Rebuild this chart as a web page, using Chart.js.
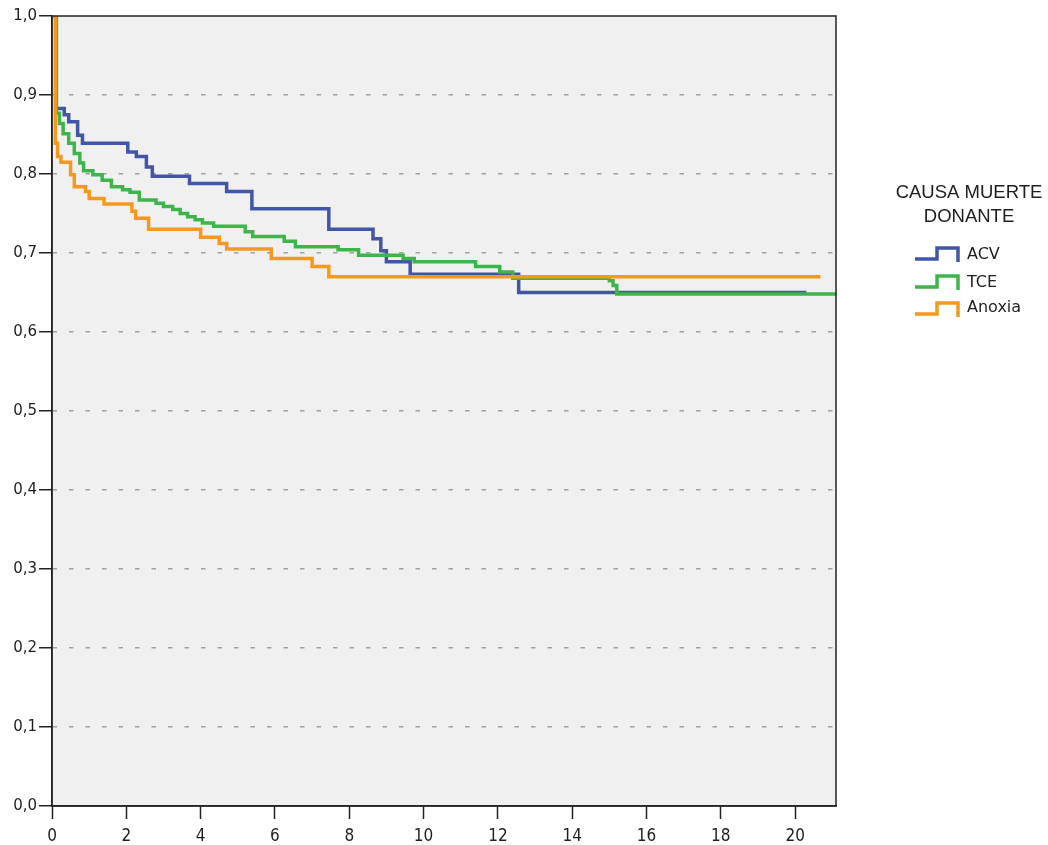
<!DOCTYPE html>
<html>
<head>
<meta charset="utf-8">
<script src="https://cdn.jsdelivr.net/npm/chart.js@4.4.0/dist/chart.umd.min.js"></script>
<style>
  html, body { margin: 0; padding: 0; background: #fff; }
  #wrap { width: 1048px; height: 845px; }
</style>
</head>
<body>
<div id="wrap"><canvas id="km" width="1048" height="845"></canvas></div>
<script>
// ── Data ──────────────────────────────────────────────────────────────────
const xTicks = [0, 2, 4, 6, 8, 10, 12, 14, 16, 18, 20];
const yTicks = [0, 0.1, 0.2, 0.3, 0.4, 0.5, 0.6, 0.7, 0.8, 0.9, 1.0];
const groups = ['ACV', 'TCE', 'Anoxia'];

const acvTime = [0, 0.1, 0.33, 0.45, 0.69, 0.82, 2.04, 2.27, 2.54, 2.7, 3.7, 4.7, 5.38, 7.45, 8.64, 8.85, 9.0, 9.64, 12.56, 20.3];
const acvSurv = [1.0, 0.883, 0.875, 0.866, 0.849, 0.839, 0.828, 0.822, 0.809, 0.797, 0.788, 0.778, 0.756, 0.730, 0.718, 0.703, 0.689, 0.673, 0.650, 0.650];

const tceTime = [0, 0.12, 0.2, 0.3, 0.45, 0.6, 0.75, 0.85, 1.1, 1.35, 1.6, 1.9, 2.1, 2.35, 2.8, 3.0, 3.25, 3.45, 3.65, 3.85, 4.05, 4.35, 5.2, 5.4, 6.25, 6.55, 7.7, 8.25, 9.45, 9.75, 11.4, 12.05, 12.4, 15.0, 15.1, 15.2, 21.1];
const tceSurv = [1.0, 0.877, 0.864, 0.851, 0.839, 0.826, 0.814, 0.804, 0.799, 0.792, 0.784, 0.780, 0.777, 0.767, 0.763, 0.759, 0.755, 0.750, 0.746, 0.742, 0.738, 0.734, 0.727, 0.721, 0.715, 0.708, 0.704, 0.697, 0.693, 0.689, 0.683, 0.676, 0.668, 0.665, 0.659, 0.648, 0.648];

const anoxTime = [0, 0.09, 0.15, 0.24, 0.5, 0.6, 0.9, 1.0, 1.4, 2.15, 2.25, 2.6, 4.0, 4.5, 4.7, 5.9, 7.0, 7.45, 20.68];
const anoxSurv = [1.0, 0.839, 0.822, 0.815, 0.799, 0.784, 0.778, 0.769, 0.762, 0.753, 0.744, 0.730, 0.720, 0.712, 0.705, 0.693, 0.683, 0.670, 0.670];

// ── Style ─────────────────────────────────────────────────────────────────
const COLORS = {
  acv: '#4156a8',
  tce: '#3db54a',
  anox: '#f7981e',
  plotBg: '#f0f0f0',
  axis: '#222222',
  grid: '#a0a0a0',
  text: '#1e1e1e',
};

const toPoints = (ts, ss) => ts.map((t, i) => ({ x: t, y: ss[i] }));
const fmtComma = (v) => v.toFixed(1).replace('.', ',');

function series(label, ts, ss, color, order) {
  return {
    label,
    data: toPoints(ts, ss),
    borderColor: color,
    borderWidth: 3.5,
    pointRadius: 0,
    stepped: 'before',
    fill: false,
    order,
  };
}

// plot background + frame + legend
const frameAndLegend = {
  id: 'frameAndLegend',
  beforeDraw(chart) {
    const { ctx, chartArea: a } = chart;
    ctx.save();
    ctx.fillStyle = COLORS.plotBg;
    ctx.fillRect(a.left, a.top, a.right - a.left, a.bottom - a.top);
    ctx.restore();
  },
  afterDraw(chart) {
    const { ctx, chartArea: a } = chart;
    ctx.save();
    ctx.strokeStyle = COLORS.axis;
    ctx.lineWidth = 1.5;
    ctx.strokeRect(a.left, a.top, a.right - a.left, a.bottom - a.top);

    // legend title
    ctx.fillStyle = COLORS.text;
    ctx.textAlign = 'center';
    ctx.textBaseline = 'middle';
    ctx.font = '18.5px "Liberation Sans", sans-serif';
    ctx.fillText('CAUSA MUERTE', 969, 193);
    ctx.fillText('DONANTE', 969, 217);

    // legend items with small step icons
    const items = [
      { label: groups[0], color: COLORS.acv, up: 248, low: 259, ty: 255 },
      { label: groups[1], color: COLORS.tce, up: 276, low: 287, ty: 283 },
      { label: groups[2], color: COLORS.anox, up: 303, low: 314, ty: 308 },
    ];
    ctx.font = '16px "DejaVu Sans", sans-serif';
    ctx.textAlign = 'left';
    items.forEach((it) => {
      ctx.strokeStyle = it.color;
      ctx.lineWidth = 3.5;
      ctx.beginPath();
      ctx.moveTo(915, it.low);
      ctx.lineTo(937, it.low);
      ctx.lineTo(937, it.up);
      ctx.lineTo(958, it.up);
      ctx.lineTo(958, it.low + 3);
      ctx.stroke();
      ctx.fillStyle = COLORS.text;
      ctx.fillText(it.label, 967, it.ty);
    });
    ctx.restore();
  },
};

new Chart(document.getElementById('km').getContext('2d'), {
  type: 'line',
  data: {
    datasets: [
      series(groups[0], acvTime, acvSurv, COLORS.acv, 3),
      series(groups[1], tceTime, tceSurv, COLORS.tce, 2),
      series(groups[2], anoxTime, anoxSurv, COLORS.anox, 1),
    ],
  },
  options: {
    responsive: false,
    animation: false,
    layout: { padding: { top: 16, right: 212, left: 0, bottom: 0 } },
    plugins: { legend: { display: false }, tooltip: { enabled: false } },
    scales: {
      x: {
        type: 'linear',
        min: 0,
        max: 21.1,
        afterBuildTicks: (s) => { s.ticks = xTicks.map((v) => ({ value: v })); },
        afterFit: (s) => { s.height = 39; },
        grid: { drawOnChartArea: false, tickLength: 13, tickColor: COLORS.axis, tickWidth: 1.5 },
        border: { color: COLORS.axis, width: 1.5 },
        ticks: {
          color: COLORS.text,
          padding: 7,
          maxRotation: 0,
          font: { family: '"DejaVu Sans Condensed", "DejaVu Sans", sans-serif', size: 17 },
          callback: (v) => String(v),
        },
      },
      y: {
        type: 'linear',
        min: 0,
        max: 1,
        afterBuildTicks: (s) => { s.ticks = yTicks.map((v) => ({ value: v })); },
        afterFit: (s) => { s.width = 52; },
        grid: {
          color: (c) => (c.tick && (c.tick.value < 1e-9 || c.tick.value > 1 - 1e-9)) ? 'rgba(0,0,0,0)' : COLORS.grid,
          lineWidth: 1.5,
          tickLength: 13,
          tickColor: COLORS.axis,
          tickWidth: 1.5,
        },
        border: { color: COLORS.axis, width: 1.5, dash: [4.5, 12], dashOffset: 0 },
        ticks: {
          color: COLORS.text,
          padding: 2,
          font: { family: '"DejaVu Sans", sans-serif', size: 15 },
          callback: (v) => fmtComma(v),
        },
      },
    },
  },
  plugins: [frameAndLegend],
});
</script>
</body>
</html>
